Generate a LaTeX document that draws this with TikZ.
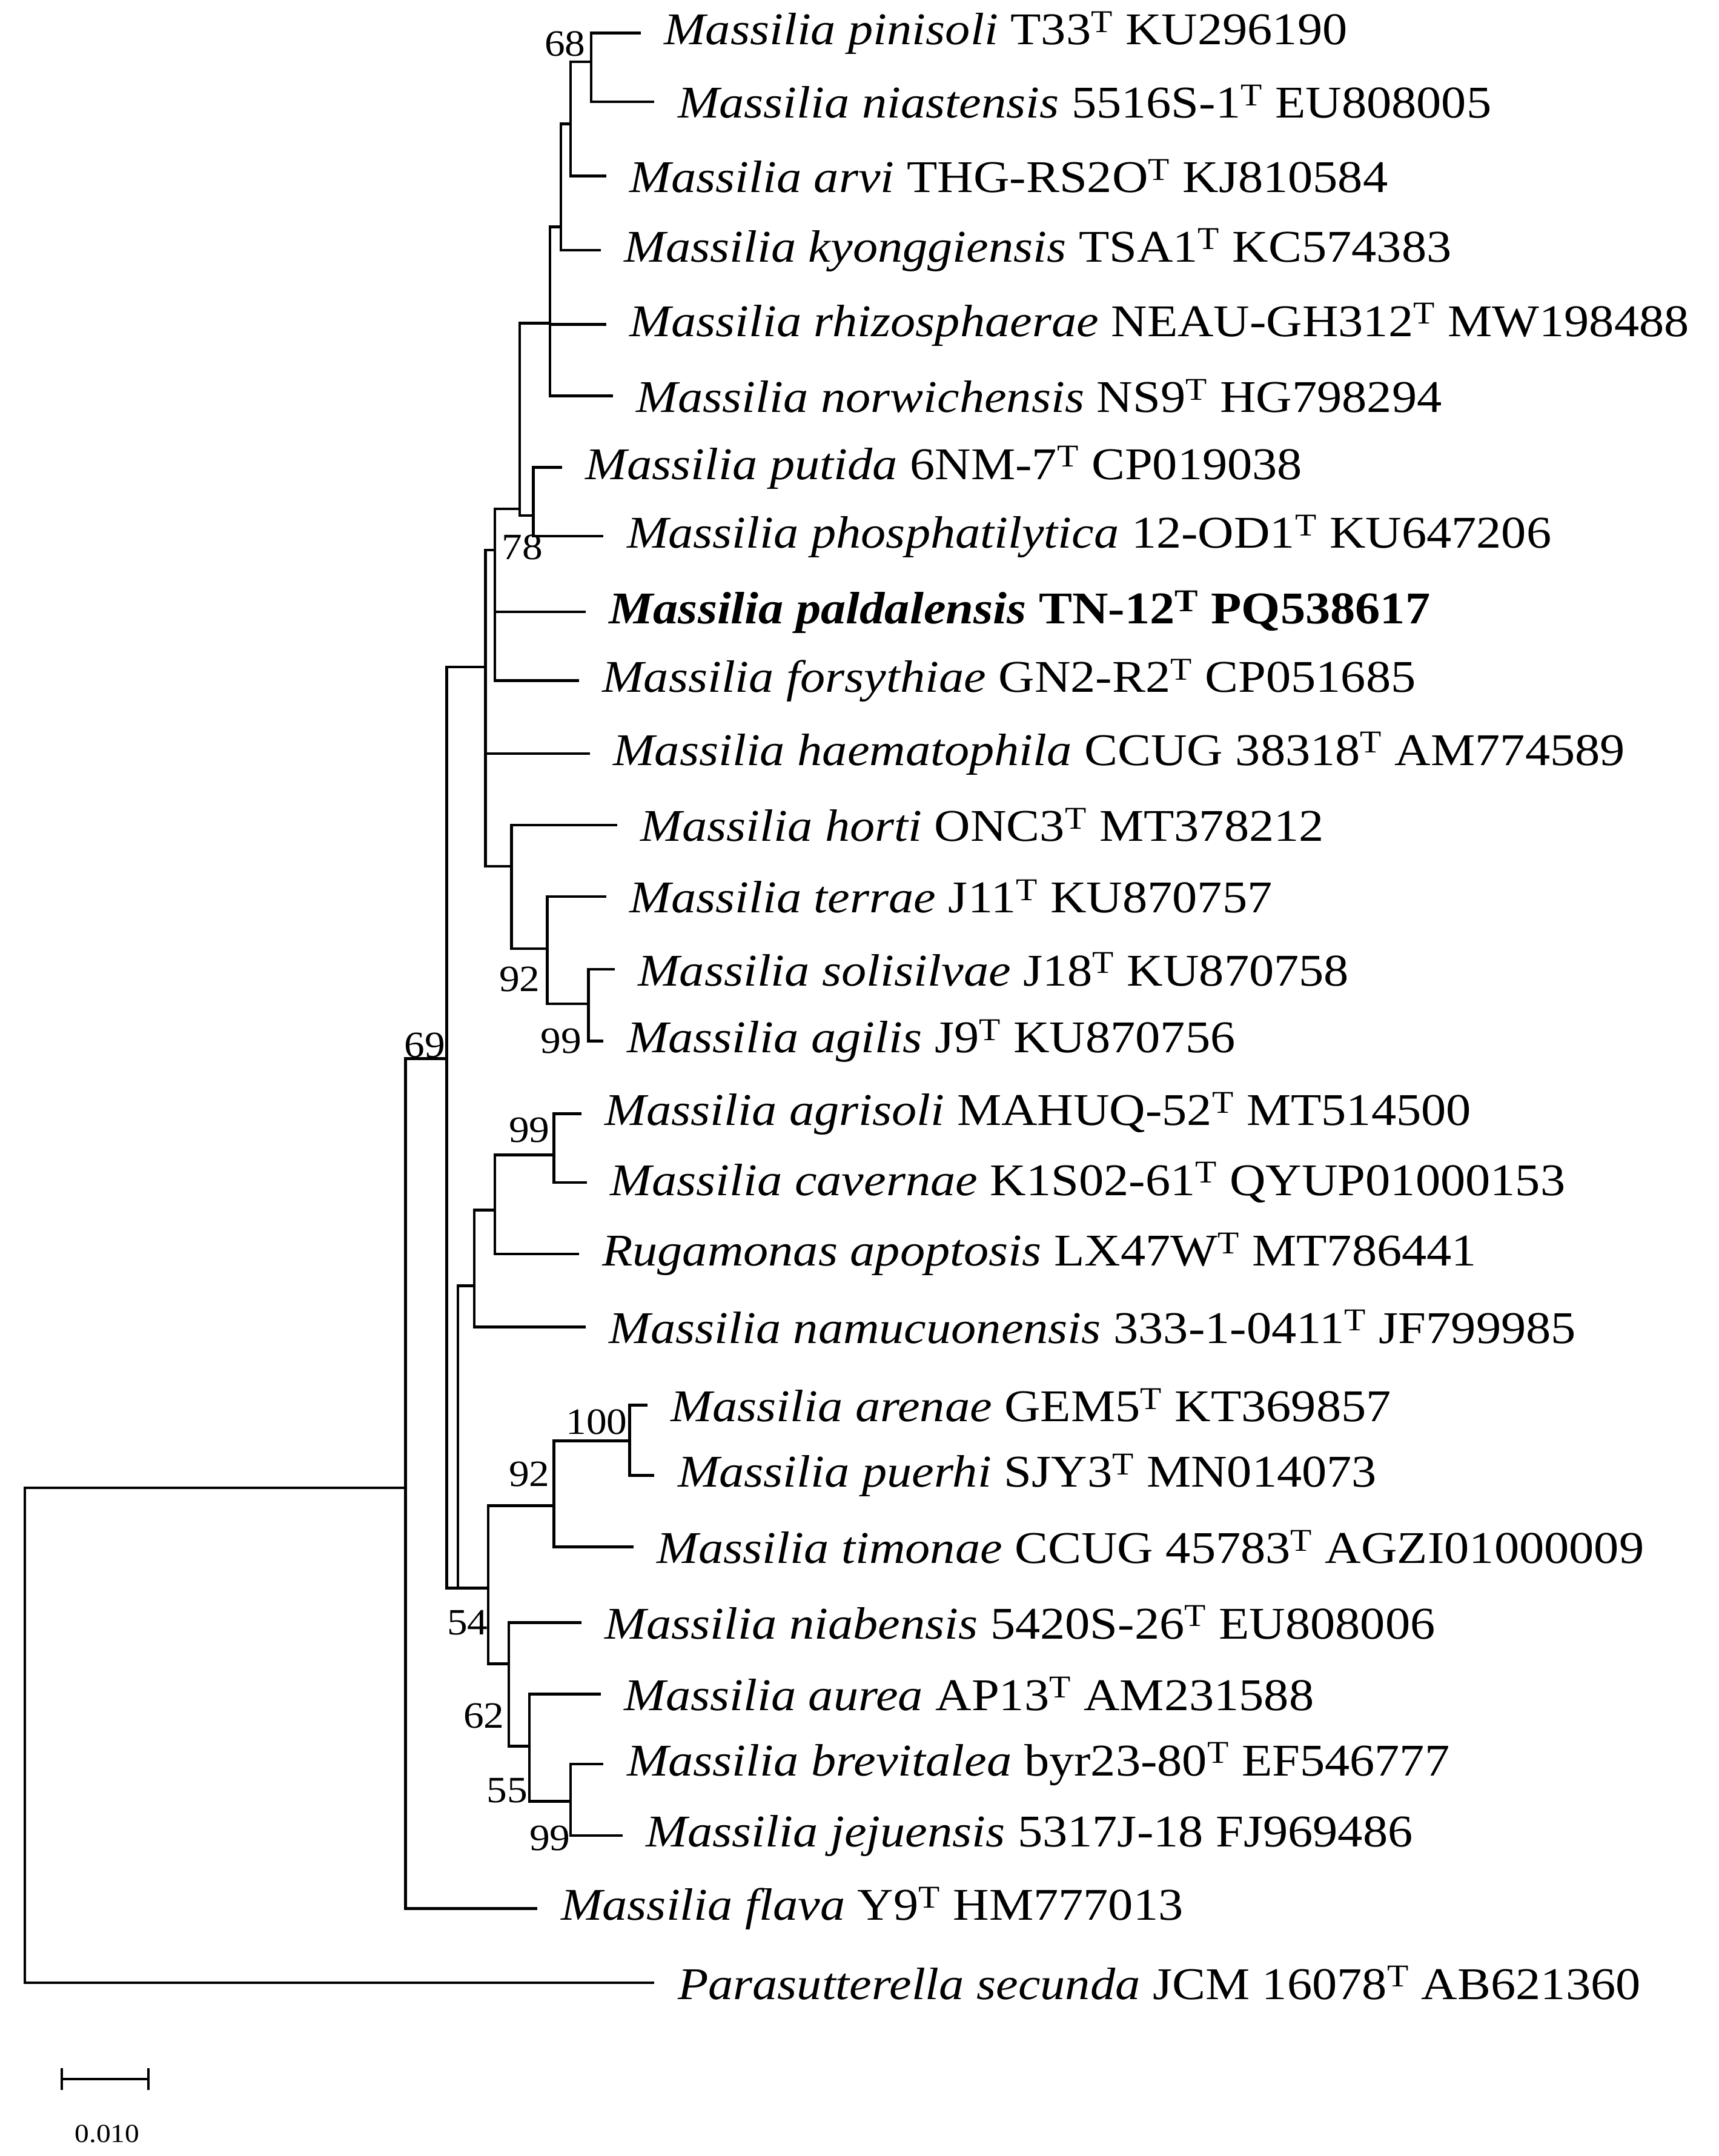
\documentclass[tikz,border=0pt]{standalone}
\usepackage{fontspec}
\setmainfont{Liberation Serif}[FakeStretch=1.1]
\usetikzlibrary{calc}
\newcommand\tipx[5]{\coordinate (#1s) at (#2,#4); \coordinate (#1e) at (#3,#4);
  \draw[line cap=rect] (#1s) -- (#1e); \node[lab] (#1) at ($(#1e)+(17,0)$) {#5};}
\newcommand\vrt[4]{\coordinate (#1t) at (#2,#3); \coordinate (#1b) at (#2,#4); \draw[line cap=rect] (#1t) -- (#1b);}
\newcommand\hz[4]{\coordinate (#1a) at (#2,#4); \coordinate (#1z) at (#3,#4); \draw (#1a) -- (#1z);}
\begin{document}
\begin{tikzpicture}[x=1pt,y=-1pt,line width=2pt,
  lab/.style={anchor=west,inner sep=0pt,font=\fontsize{33}{38}\selectfont},
  boot/.style={inner sep=0pt,font=\fontsize{27}{30}\selectfont}]
\useasboundingbox (0,0) rectangle (1250,1568);
\vrt{r}{18}{1082}{1442}
\hz{r1}{18}{295}{1082}
\tipx{para}{18}{475}{1442}{\textit{Parasutterella secunda} JCM 16078\textsuperscript{T} AB621360}
\vrt{n69}{295}{770}{1388}
\node[boot] (b69) at (309,760) {69};
\tipx{flava}{295}{390}{1388}{\textit{Massilia flava} Y9\textsuperscript{T} HM777013}
\hz{h1}{295}{325}{770}
\vrt{n325}{325}{485}{1155}
\hz{h2}{325}{353}{485}
\vrt{n353}{353}{400}{630}
\hz{h3}{353}{360}{400}
\vrt{n360}{360}{370}{493}
\tipx{pald}{360}{425}{445}{\textbf{\textit{Massilia paldalensis} TN-12\textsuperscript{T} PQ538617}}
\tipx{fors}{360}{420}{495}{\textit{Massilia forsythiae} GN2-R2\textsuperscript{T} CP051685}
\hz{h4}{360}{378}{370}
\vrt{n378}{378}{235}{375}
\hz{h5}{378}{400}{235}
\hz{h6}{378}{388}{375}
\vrt{n388}{388}{340}{390}
\node[boot] (b78) at (380,398) {78};
\tipx{put}{388}{408}{340}{\textit{Massilia putida} 6NM-7\textsuperscript{T} CP019038}
\tipx{phos}{388}{438}{390}{\textit{Massilia phosphatilytica} 12-OD1\textsuperscript{T} KU647206}
\vrt{n400}{400}{165}{288}
\tipx{rhiz}{400}{440}{236}{\textit{Massilia rhizosphaerae} NEAU-GH312\textsuperscript{T} MW198488}
\tipx{norw}{400}{445}{288}{\textit{Massilia norwichensis} NS9\textsuperscript{T} HG798294}
\hz{h7}{400}{408}{165}
\vrt{n408}{408}{90}{182}
\tipx{kyon}{408}{436}{182}{\textit{Massilia kyonggiensis} TSA1\textsuperscript{T} KC574383}
\hz{h8}{408}{415}{90}
\vrt{n415}{415}{45}{128}
\tipx{arvi}{415}{440}{128}{\textit{Massilia arvi} THG-RS2O\textsuperscript{T} KJ810584}
\hz{h9}{415}{430}{45}
\vrt{n430}{430}{24}{74}
\node[boot] (b68) at (411,32) {68};
\tipx{pini}{430}{465}{24}{\textit{Massilia pinisoli} T33\textsuperscript{T} KU296190}
\tipx{nias}{430}{475}{74}{\textit{Massilia niastensis} 5516S-1\textsuperscript{T} EU808005}
\tipx{haem}{353}{428}{548}{\textit{Massilia haematophila} CCUG 38318\textsuperscript{T} AM774589}
\hz{h10}{353}{372}{630}
\vrt{n372}{372}{600}{690}
\tipx{hort}{372}{448}{600}{\textit{Massilia horti} ONC3\textsuperscript{T} MT378212}
\hz{h11}{372}{398}{690}
\vrt{n398}{398}{652}{730}
\node[boot] (b92a) at (378,712) {92};
\tipx{terr}{398}{440}{652}{\textit{Massilia terrae} J11\textsuperscript{T} KU870757}
\hz{h12}{398}{428}{730}
\vrt{n428}{428}{705}{757}
\node[boot] (b99a) at (408,757) {99};
\tipx{soli}{428}{446}{705}{\textit{Massilia solisilvae} J18\textsuperscript{T} KU870758}
\tipx{agil}{428}{438}{757}{\textit{Massilia agilis} J9\textsuperscript{T} KU870756}
\hz{h13}{325}{333}{1155}
\vrt{n333}{333}{935}{1155}
\hz{h14}{333}{345}{935}
\vrt{n345}{345}{880}{965}
\tipx{namu}{345}{425}{965}{\textit{Massilia namucuonensis} 333-1-0411\textsuperscript{T} JF799985}
\hz{h15}{345}{360}{880}
\vrt{n360b}{360}{840}{912}
\tipx{ruga}{360}{420}{912}{\textit{Rugamonas apoptosis} LX47W\textsuperscript{T} MT786441}
\hz{h16}{360}{403}{840}
\vrt{n403}{403}{810}{860}
\node[boot] (b99b) at (385,822) {99};
\tipx{agri}{403}{422}{810}{\textit{Massilia agrisoli} MAHUQ-52\textsuperscript{T} MT514500}
\tipx{cave}{403}{426}{860}{\textit{Massilia cavernae} K1S02-61\textsuperscript{T} QYUP01000153}
\hz{h17}{333}{355}{1155}
\vrt{n355}{355}{1095}{1210}
\node[boot] (b54) at (340,1180) {54};
\hz{h18}{355}{403}{1095}
\vrt{n403b}{403}{1048}{1125}
\node[boot] (b92b) at (385,1072) {92};
\tipx{timo}{403}{460}{1125}{\textit{Massilia timonae} CCUG 45783\textsuperscript{T} AGZI01000009}
\hz{h19}{403}{458}{1048}
\vrt{n458}{458}{1022}{1073}
\node[boot] (b100) at (434,1034) {100};
\tipx{aren}{458}{470}{1022}{\textit{Massilia arenae} GEM5\textsuperscript{T} KT369857}
\tipx{puer}{458}{475}{1073}{\textit{Massilia puerhi} SJY3\textsuperscript{T} MN014073}
\hz{h20}{355}{370}{1210}
\vrt{n370}{370}{1180}{1270}
\node[boot] (b62) at (352,1248) {62};
\tipx{niab}{370}{422}{1180}{\textit{Massilia niabensis} 5420S-26\textsuperscript{T} EU808006}
\hz{h21}{370}{385}{1270}
\vrt{n385}{385}{1232}{1310}
\node[boot] (b55) at (369,1302) {55};
\tipx{aure}{385}{436}{1232}{\textit{Massilia aurea} AP13\textsuperscript{T} AM231588}
\hz{h22}{385}{415}{1310}
\vrt{n415b}{415}{1283}{1335}
\node[boot] (b99c) at (400,1337) {99};
\tipx{brev}{415}{438}{1283}{\textit{Massilia brevitalea} byr23-80\textsuperscript{T} EF546777}
\tipx{jeju}{415}{452}{1335}{\textit{Massilia jejuensis} 5317J-18 FJ969486}
\coordinate (sb1) at (45,1512); \coordinate (sb2) at (108,1512);
\draw (sb1) -- (sb2);
\draw ($(sb1)+(0,-8)$) -- ($(sb1)+(0,8)$);
\draw ($(sb2)+(0,-8)$) -- ($(sb2)+(0,8)$);
\node[inner sep=0pt,font=\fontsize{19}{22}\selectfont] (sbl) at (78,1552) {0.010};
\end{tikzpicture}
\end{document}
